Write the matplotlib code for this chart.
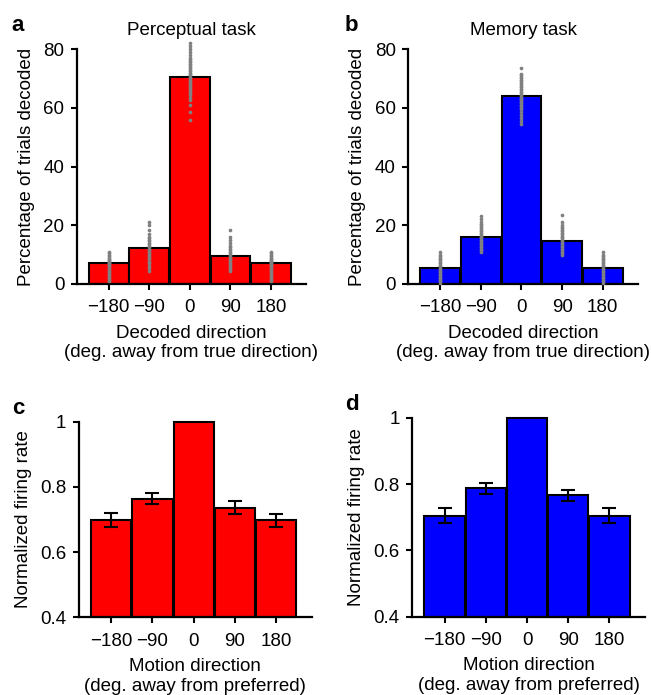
#!/usr/bin/env python3
"""Decoding histograms (top) and normalized tuning (bottom), perceptual vs memory."""
import matplotlib
matplotlib.use("Agg")
import matplotlib.pyplot as plt

plt.rcParams["font.family"] = ["Liberation Sans", "DejaVu Sans"]

directions = [-180, -90, 0, 90, 180]

# top row: percentage of trials decoded at each direction
perc_decoded = [7.2, 12.1, 70.4, 9.6, 7.2]
mem_decoded = [5.3, 16.1, 64.1, 14.8, 5.3]

# per-direction resampled values (grey dots)
perc_dots = [
    [1.0, 1.5, 2.0, 2.5, 3.0, 3.5, 4.0, 4.5, 5.0, 5.5, 6.0, 6.3, 6.6, 7.0, 7.2, 7.5, 7.8, 8.0, 8.5, 9.0, 9.5, 10.0, 10.5, 11.0],
    [4.5, 5.5, 6.0, 7.0, 7.5, 8.5, 9.0, 9.5, 10.0, 10.5, 11.0, 11.5, 12.0, 12.5, 13.0, 13.5, 14.0, 14.5, 15.0, 15.5, 16.0, 17.0, 18.5, 20.0, 21.0],
    [56.0, 58.5, 61.0, 62.5, 63.5, 64.5, 65.0, 65.5, 66.0, 66.5, 67.0, 67.5, 68.0, 68.5, 69.0, 69.5, 70.0, 70.5, 71.0, 71.5, 72.0, 72.5,
     73.0, 73.5, 74.0, 74.5, 75.0, 75.5, 76.0, 76.5, 77.0, 78.0, 79.0, 80.0, 81.0, 82.0],
    [4.5, 5.0, 5.5, 6.0, 6.5, 7.0, 7.5, 8.0, 8.5, 9.0, 9.5, 10.0, 10.5, 11.0, 11.5, 12.0, 12.5, 13.0, 14.0, 15.0, 16.0, 18.5],
    [1.0, 1.5, 2.0, 2.5, 3.0, 3.5, 4.0, 4.5, 5.0, 5.5, 6.0, 6.3, 6.6, 7.0, 7.2, 7.5, 7.8, 8.0, 8.5, 9.0, 9.5, 10.0, 10.5, 11.0],
]
mem_dots = [
    [0.3, 1.0, 1.5, 2.0, 2.5, 3.0, 3.5, 4.0, 4.5, 5.0, 5.5, 6.0, 6.5, 7.0, 7.5, 8.0, 8.5, 9.0, 9.5, 10.0, 11.0],
    [11.0, 11.5, 12.0, 12.5, 13.0, 13.5, 14.0, 14.5, 15.0, 15.5, 16.0, 16.5, 17.0, 17.5, 18.0, 18.5, 19.0, 19.5, 20.0, 20.5, 21.0, 22.0, 23.0],
    [54.5, 55.5, 56.5, 57.5, 58.5, 59.5, 60.0, 60.5, 61.0, 61.5, 62.0, 62.5, 63.0, 63.5, 64.0, 64.5, 65.0, 65.5, 66.0, 66.5, 67.0, 67.5,
     68.0, 68.5, 69.0, 69.5, 70.0, 70.5, 71.0, 71.5, 73.5],
    [10.0, 10.5, 11.0, 11.5, 12.0, 12.5, 13.0, 13.5, 14.0, 14.5, 15.0, 15.5, 16.0, 16.5, 17.0, 17.5, 18.0, 18.5, 19.0, 19.5, 20.0, 21.0, 23.5],
    [0.3, 1.0, 1.5, 2.0, 2.5, 3.0, 3.5, 4.0, 4.5, 5.0, 5.5, 6.0, 6.5, 7.0, 7.5, 8.0, 8.5, 9.0, 9.5, 10.0, 11.0],
]

# bottom row: normalized firing rate +/- sem
perc_rate = [0.699, 0.763, 1.0, 0.736, 0.697]
perc_err = [0.021, 0.017, 0.0, 0.020, 0.021]
mem_rate = [0.705, 0.788, 1.0, 0.766, 0.705]
mem_err = [0.022, 0.017, 0.0, 0.018, 0.022]

RED = "#ff0000"
BLUE = "#0000ff"
FS = 13.5


def style(ax, ylim, yticks, yticklabels):
    ax.set_xlim(-251, 258)
    ax.set_ylim(*ylim)
    ax.set_xticks(directions)
    ax.set_xticklabels([str(d).replace("-", "\u2212") for d in directions])
    ax.set_yticks(yticks)
    ax.set_yticklabels(yticklabels)
    for s in ("top", "right"):
        ax.spines[s].set_visible(False)
    for s in ("left", "bottom"):
        ax.spines[s].set_linewidth(1.6)
    ax.tick_params(direction="out", length=4, width=1.5, labelsize=FS)
    ax.tick_params(axis="x", pad=7)
    ax.tick_params(axis="y", pad=5)


fig = plt.figure(figsize=(6.51, 6.95), dpi=100)
ax_a = fig.add_axes([0.118, 0.5914, 0.352, 0.338])
ax_b = fig.add_axes([0.627, 0.5914, 0.353, 0.338])
ax_c = fig.add_axes([0.121, 0.1118, 0.358, 0.2815])
ax_d = fig.add_axes([0.633, 0.1127, 0.358, 0.2859])

for ax, vals, dots, col, title in [(ax_a, perc_decoded, perc_dots, RED, "Perceptual task"),
                                   (ax_b, mem_decoded, mem_dots, BLUE, "Memory task")]:
    ax.bar(directions, vals, width=88, color=col, edgecolor="black", linewidth=1.5, zorder=2)
    for d, ys in zip(directions, dots):
        ax.scatter([d] * len(ys), ys, s=7, color="#808080", linewidths=0, zorder=3, clip_on=False)
    style(ax, (0, 80), [0, 20, 40, 60, 80], ["0", "20", "40", "60", "80"])
    ax.set_title(title, fontsize=FS, pad=10)
    ax.set_ylabel("Percentage of trials decoded", fontsize=FS, labelpad=6)
    ax.set_xlabel("Decoded direction\n(deg. away from true direction)", fontsize=FS, labelpad=6)

for ax, vals, err, col in [(ax_c, perc_rate, perc_err, RED), (ax_d, mem_rate, mem_err, BLUE)]:
    ax.bar(directions, [v - 0.4 for v in vals], bottom=0.4, width=88, color=col,
           edgecolor="black", linewidth=1.5, zorder=2, clip_on=False)
    ex = [d for d, e in zip(directions, err) if e > 0]
    ey = [v for v, e in zip(vals, err) if e > 0]
    ee = [e for e in err if e > 0]
    ax.errorbar(ex, ey, yerr=ee, fmt="none", ecolor="black", elinewidth=1.5,
                capsize=5, capthick=1.5, zorder=3)
    style(ax, (0.4, 1.0), [0.4, 0.6, 0.8, 1.0], ["0.4", "0.6", "0.8", "1"])
    ax.set_ylabel("Normalized firing rate", fontsize=FS, labelpad=6)
    ax.set_xlabel("Motion direction\n(deg. away from preferred)", fontsize=FS, labelpad=6)

for ax, letter, x, y in [(ax_a, "a", 0.018, 0.978), (ax_b, "b", 0.530, 0.978),
                         (ax_c, "c", 0.018, 0.428), (ax_d, "d", 0.530, 0.433)]:
    fig.text(x, y, letter, fontsize=16, fontweight="bold", va="top", ha="left")

fig.savefig("out.png", dpi=100)
